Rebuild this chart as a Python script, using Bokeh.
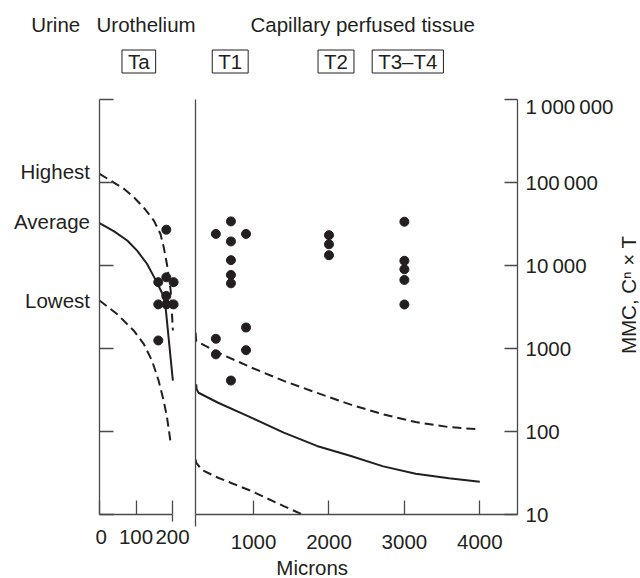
import math
from bokeh.plotting import figure
from bokeh.layouts import column, row
from bokeh.models import (Range1d, LogAxis, FixedTicker, Label,
                          CustomJSTickFormatter)
from bokeh.embed import file_html
from bokeh.resources import INLINE

# ---------------- data ----------------
# Urothelium panel (microns 0-200)
uro_high_x = [0, 30, 67, 94, 121, 149, 167, 176, 185, 195, 201]
uro_high_y = [127000, 106000, 84000, 66500, 50000, 34700, 24000, 16600, 10200, 5000, 1650]
uro_avg_x = [0, 39, 76, 103, 130, 153, 172, 181, 201]
uro_avg_y = [32400, 26000, 20000, 15100, 10500, 6800, 4600, 3150, 410]
uro_low_x = [0, 48, 94, 121, 144, 162, 176, 185, 196]
uro_low_y = [3790, 2600, 1640, 1140, 710, 410, 233, 148, 68]
uro_pts_x = [183, 161, 183, 203, 183, 161, 183, 203, 161]
uro_pts_y = [27000, 6300, 7200, 6300, 4300, 3400, 3400, 3400, 1250]

# Capillary perfused tissue panel (microns)
cap_high_x = [231, 240, 530, 970, 1400, 1840, 2280, 2720, 3150, 3590, 4000]
cap_high_y = [1550, 1230, 890, 590, 407, 292, 212, 161, 130, 113, 106]
cap_avg_x = [239, 245, 270, 530, 970, 1400, 1840, 2280, 2720, 3150, 3590, 4000]
cap_avg_y = [371, 324, 293, 222, 147, 97, 67, 51, 38, 31, 27.3, 24.8]
cap_low_x = [231, 240, 315, 530, 970, 1400, 1646]
cap_low_y = [46, 42, 34.4, 27.7, 19.2, 12.6, 10]
cap_pts_x = [500, 500, 500,
             700, 700, 700, 700, 700, 700,
             900, 900, 900,
             2000, 2000, 2000,
             3000, 3000, 3000, 3000, 3000]
cap_pts_y = [24000, 1310, 850,
             34000, 19500, 11600, 7700, 6100, 411,
             24000, 1790, 955,
             23200, 18000, 13300,
             33700, 11400, 9000, 6700, 3390]

y_ticks = [10, 100, 1000, 10000, 100000, 1000000]
y_tick_labels = ["10", "100", "1000", "10\u2009000", "100\u2009000", "1\u2009000\u2009000"]
uro_ticks = [0, 100, 200]
cap_ticks = [1000, 2000, 3000, 4000]
curve_names = ["Highest", "Average", "Lowest"]
stage_names = ["Ta", "T1", "T2", "T3\u2013T4"]
region_names = ["Urine", "Urothelium", "Capillary perfused tissue"]
x_title = "Microns"
y_title = "MMC, C\u207f \u00d7 T"

# ---------------- style ----------------
FONT = "Liberation Sans"
FS = "20.5px"
INK = "#231f20"
AX = "#4a4a4a"
DASH = "9 5"
ROW_H = 459
TOP_H = 94
BOT_H = 578 - TOP_H - ROW_H

def style_axis(ax):
    ax.axis_line_color = AX
    ax.axis_line_width = 1.3
    ax.major_tick_line_color = AX
    ax.major_tick_line_width = 1.3
    ax.minor_tick_line_color = AX
    ax.minor_tick_line_width = 1.3
    ax.major_label_text_font = FONT
    ax.major_label_text_font_size = FS
    ax.major_label_text_color = INK

blank = CustomJSTickFormatter(code="return ''")

def strip(w, h, yr_inverted=True):
    return figure(width=w, height=h, x_range=Range1d(0, w),
                  y_range=Range1d(h, 0) if yr_inverted else Range1d(0, h),
                  output_backend="svg", toolbar_location=None,
                  x_axis_location=None, y_axis_location=None, min_border=0,
                  outline_line_color=None)

def txt(**kw):
    base = dict(text_font=FONT, text_font_size=FS, text_color=INK, text_baseline="middle")
    base.update(kw)
    return Label(**base)

# ---------------- top strip ----------------
top = strip(640, TOP_H)
top.grid.visible = False
for name, xl in zip(region_names, [30.7, 96, 250]):
    top.add_layout(txt(x=xl, y=24, text=name, text_align="left"))
for name, xc in zip(stage_names, [138.3, 229.7, 335.5, 407.3]):
    top.add_layout(txt(x=xc, y=61, text=name, text_align="center",
                       border_line_color=INK, border_line_width=1,
                       background_fill_color="white",
                       padding=dict(left=6, right=6, top=0, bottom=0)))

# ---------------- shared y ----------------
yr = Range1d(10, 1e6)

def panel(w, xr, **kw):
    p = figure(width=w, height=ROW_H, x_range=xr, y_range=yr, y_axis_type="log",
               output_backend="svg", toolbar_location=None,
               min_border_top=5, min_border_bottom=39, outline_line_color=None, **kw)
    p.grid.visible = False
    return p

# ---------------- curve-name column ----------------
pN = panel(95, Range1d(0, 95), x_axis_location=None, y_axis_location=None,
           min_border_left=0, min_border_right=0)
for name, yv, off in zip(curve_names, [uro_high_y[0], uro_avg_y[0], uro_low_y[0]], [2, 2, 0]):
    pN.add_layout(txt(x=89.5, y=yv, y_offset=off, text=name, text_align="right"))

# ---------------- left panel ----------------
pL = panel(95, Range1d(0, 249.3), min_border_left=4, min_border_right=0)
xa = pL.xaxis[0]
style_axis(xa)
xa.ticker = FixedTicker(ticks=uro_ticks, minor_ticks=[200])
xa.bounds = (0, 200)
xa.major_tick_in = 14
xa.major_tick_out = 0
xa.minor_tick_in = 0
xa.minor_tick_out = 7
xa.major_label_standoff = 8
ya = pL.yaxis[0]
style_axis(ya)
ya.ticker = FixedTicker(ticks=y_ticks)
ya.formatter = blank
ya.major_tick_in = 14
ya.major_tick_out = 0
ya.major_label_standoff = 0

pL.line(uro_high_x, uro_high_y, line_color=INK, line_width=2, line_dash=DASH)
pL.line(uro_avg_x, uro_avg_y, line_color=INK, line_width=2)
pL.line(uro_low_x, uro_low_y, line_color=INK, line_width=2, line_dash=DASH)
pL.scatter(uro_pts_x, uro_pts_y, size=9, fill_color=INK, line_color=INK)

# ---------------- right panel ----------------
pR = panel(426, Range1d(230, 4500), y_axis_location="right",
           min_border_left=5, min_border_right=96)
xb = pR.xaxis[0]
style_axis(xb)
xb.ticker = FixedTicker(ticks=cap_ticks, minor_ticks=[230])
xb.bounds = (230, 4500)
xb.major_tick_in = 14
xb.major_tick_out = 0
xb.minor_tick_in = 0
xb.minor_tick_out = 12
xb.major_label_standoff = 8

yb = pR.yaxis[0]
style_axis(yb)
yb.ticker = FixedTicker(ticks=y_ticks)
yb.major_label_overrides = {t: s for t, s in zip(y_ticks, y_tick_labels)}
yb.major_tick_in = 13
yb.major_tick_out = 0
yb.major_label_standoff = 8

left_line = LogAxis(ticker=FixedTicker(ticks=[]), formatter=blank,
                    major_tick_in=0, major_tick_out=0, major_label_standoff=0)
style_axis(left_line)
pR.add_layout(left_line, "left")

pR.line(cap_high_x, cap_high_y, line_color=INK, line_width=2, line_dash=DASH)
pR.line(cap_avg_x, cap_avg_y, line_color=INK, line_width=2)
pR.line(cap_low_x, cap_low_y, line_color=INK, line_width=2, line_dash=DASH)
pR.scatter(cap_pts_x, cap_pts_y, size=9, fill_color=INK, line_color=INK)

# ---------------- y-title column ----------------
pY = strip(640 - 95 - 95 - 426, ROW_H, yr_inverted=True)
pY.grid.visible = False
pY.add_layout(txt(x=12, y=310 - TOP_H, text=y_title, text_align="center",
                  angle=math.pi / 2))

# ---------------- bottom strip ----------------
bot = strip(640, BOT_H)
bot.grid.visible = False
bot.add_layout(txt(x=311.7, y=567 - TOP_H - ROW_H, text=x_title, text_align="center"))

layout = column(top, row(pN, pL, pR, pY, spacing=0), bot, spacing=0)
open("out.html", "w").write(file_html(layout, INLINE))
